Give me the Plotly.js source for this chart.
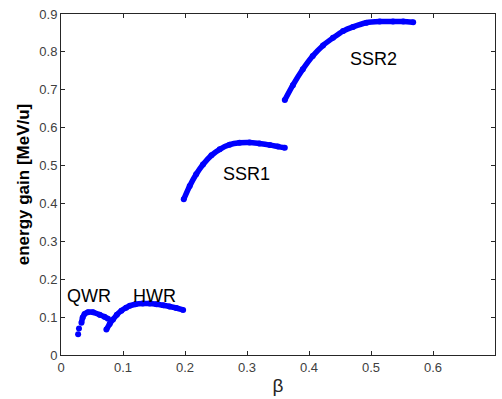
<!DOCTYPE html>
<html>
<head>
<meta charset="utf-8">
<script src="https://cdn.plot.ly/plotly-3.0.1.min.js"></script>
<style>html,body{margin:0;padding:0;background:#fff;}#chart{width:502px;height:399px;}</style>
</head>
<body>
<div id="chart"></div>
<script>
// QWR cavity curve
const qwrBeta = [0.0276, 0.0290, 0.0330, 0.0350, 0.0380, 0.0435, 0.0516, 0.0624, 0.0700, 0.0758];
const qwrGain = [0.0546, 0.0700, 0.0850, 0.0990, 0.1080, 0.1130, 0.1130, 0.1060, 0.1010, 0.0960];
// HWR cavity curve
const hwrBeta = [0.0732, 0.0785, 0.0839, 0.0900, 0.0974, 0.1050, 0.1110, 0.1200, 0.1320, 0.1430, 0.1540, 0.1650, 0.1750, 0.1860, 0.1970];
const hwrGain = [0.0670, 0.0820, 0.0940, 0.1060, 0.1170, 0.1250, 0.1300, 0.1340, 0.1360, 0.1360, 0.1340, 0.1310, 0.1280, 0.1240, 0.1190];
// SSR1 cavity curve
const ssr1Beta = [0.198, 0.2076, 0.218, 0.229, 0.2426, 0.256, 0.272, 0.288, 0.304, 0.320, 0.337, 0.350, 0.361];
const ssr1Gain = [0.411, 0.446, 0.477, 0.503, 0.527, 0.543, 0.555, 0.560, 0.561, 0.558, 0.554, 0.550, 0.547];
// SSR2 cavity curve
const ssr2Beta = [0.361, 0.374, 0.390, 0.406, 0.4226, 0.4387, 0.455, 0.471, 0.4926, 0.514, 0.5355, 0.552, 0.568];
const ssr2Gain = [0.673, 0.712, 0.754, 0.789, 0.817, 0.837, 0.855, 0.866, 0.877, 0.880, 0.880, 0.880, 0.878];
// curve labels
const labelText = ['QWR', 'HWR', 'SSR1', 'SSR2'];
const labelBeta = [0.045, 0.150, 0.299, 0.5035];
const labelGain = [0.157, 0.157, 0.477, 0.780];

const xTicks = [0, 0.1, 0.2, 0.3, 0.4, 0.5, 0.6, 0.7];
const xTickText = ['0', '0.1', '0.2', '0.3', '0.4', '0.5', '0.6', '0.7'];
const yTicks = [0, 0.1, 0.2, 0.3, 0.4, 0.5, 0.6, 0.7, 0.8, 0.9];
const yTickText = ['0', '0.1', '0.2', '0.3', '0.4', '0.5', '0.6', '0.7', '0.8', '0.9'];

const BLUE = 'rgb(0,0,255)';
const FONT = 'Liberation Sans, Arial, sans-serif';

function lineTrace(x, y) {
  return {x: x, y: y, mode: 'lines+markers', type: 'scatter',
    line: {color: BLUE, width: 5.5, shape: 'spline', smoothing: 0.8},
    marker: {color: BLUE, size: 6}, hoverinfo: 'skip', showlegend: false};
}
function dotTrace(x, y) {
  return {x: x, y: y, mode: 'markers', type: 'scatter',
    marker: {color: BLUE, size: 6}, hoverinfo: 'skip', showlegend: false};
}

const data = [
  dotTrace(qwrBeta.slice(0, 2), qwrGain.slice(0, 2)),
  lineTrace(qwrBeta.slice(2), qwrGain.slice(2)),
  lineTrace(hwrBeta, hwrGain),
  lineTrace(ssr1Beta, ssr1Gain),
  lineTrace(ssr2Beta, ssr2Gain)
];

const annotations = labelText.map((t, i) => ({
  x: labelBeta[i], y: labelGain[i], xref: 'x', yref: 'y', text: t,
  showarrow: false, font: {family: FONT, size: 18, color: '#000'},
  xanchor: 'center', yanchor: 'middle'
}));

const axisCommon = {
  showgrid: false, zeroline: false, showline: true, mirror: 'ticks',
  linecolor: '#262626', linewidth: 1, ticks: 'inside', ticklen: 4,
  tickcolor: '#262626', tickwidth: 1,
  tickfont: {family: FONT, size: 13, color: '#404040'}, automargin: false
};

const layout = {
  width: 502, height: 399,
  margin: {l: 61, r: 7, t: 14, b: 44},
  paper_bgcolor: '#fff', plot_bgcolor: '#fff',
  xaxis: Object.assign({}, axisCommon, {
    range: [0, 0.7], tickmode: 'array', tickvals: xTicks, ticktext: xTickText,
    title: {text: 'β', font: {family: FONT, size: 19, color: '#262626'}, standoff: 5}
  }),
  yaxis: Object.assign({}, axisCommon, {
    range: [0, 0.9], tickmode: 'array', tickvals: yTicks, ticktext: yTickText,
    title: {text: '<b>energy gain [MeV/u]</b>', font: {family: FONT, size: 17, color: '#000'}, standoff: 5}
  }),
  annotations: annotations
};

Plotly.newPlot('chart', data, layout, {staticPlot: true, displayModeBar: false});
</script>
</body>
</html>
